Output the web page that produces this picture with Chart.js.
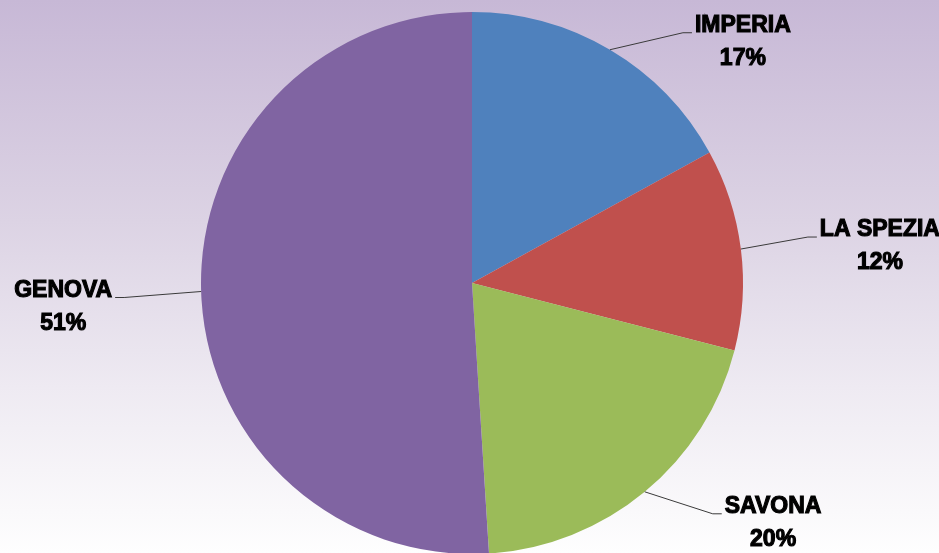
<!DOCTYPE html>
<html>
<head>
<meta charset="utf-8">
<script src="https://cdn.jsdelivr.net/npm/chart.js"></script>
<style>
  html, body { margin: 0; padding: 0; }
  #wrap {
    width: 939px; height: 553px; position: relative;
    background: linear-gradient(to bottom, #c7b8d6 0%, #dcd3e4 40%, #eeeaf2 70%, #fefefe 100%);
  }
</style>
</head>
<body>
<div id="wrap"><canvas id="myChart"></canvas></div>
<script>
const provinces = ["IMPERIA", "LA SPEZIA", "SAVONA", "GENOVA"];
const shares = [17, 12, 20, 51];
const sliceColors = ["#4f81bd", "#c0504d", "#9bbb59", "#8064a2"];

// where each leader line ends, relative to the point on the slice edge
const leaderEnds = [[82, -17], [76, -12], [77, 22], [-86, 6]];

const total = shares.reduce((a, b) => a + b, 0);

const calloutPlugin = {
  id: 'callouts',
  afterDatasetsDraw(chart) {
    const ctx = chart.ctx;
    const meta = chart.getDatasetMeta(0);
    ctx.save();
    ctx.font = 'bold 23px "Liberation Sans", Arial, sans-serif';
    ctx.textAlign = 'center';
    ctx.textBaseline = 'middle';
    meta.data.forEach((arc, i) => {
      const p = arc.getProps(['x', 'y', 'startAngle', 'endAngle', 'outerRadius'], true);
      const mid = (p.startAngle + p.endAngle) / 2;
      const ex = p.x + Math.cos(mid) * p.outerRadius;
      const ey = p.y + Math.sin(mid) * p.outerRadius;
      const side = leaderEnds[i][0] > 0 ? 1 : -1;
      const lx = ex + leaderEnds[i][0];
      const ly = ey + leaderEnds[i][1];

      ctx.strokeStyle = '#3a3a3a';
      ctx.lineWidth = 1;
      ctx.beginPath();
      ctx.moveTo(ex, ey);
      ctx.lineTo(lx - side * 9, ly);
      ctx.lineTo(lx, ly);
      ctx.stroke();

      const name = provinces[i];
      const pct = Math.round(shares[i] / total * 100) + '%';
      const w = ctx.measureText(name).width;
      const tx = lx + side * (w / 2 + 3);
      ctx.fillStyle = '#000';
      ctx.strokeStyle = '#000';
      ctx.lineWidth = 1.1;
      ctx.fillText(name, tx, ly - 7);
      ctx.strokeText(name, tx, ly - 7);
      ctx.fillText(pct, tx, ly + 26);
      ctx.strokeText(pct, tx, ly + 26);
    });
    ctx.restore();
  }
};

new Chart(document.getElementById('myChart'), {
  type: 'pie',
  data: {
    labels: provinces,
    datasets: [{
      data: shares,
      backgroundColor: sliceColors,
      borderWidth: 0,
      radius: 271
    }]
  },
  options: {
    responsive: true,
    maintainAspectRatio: false,
    animation: false,
    layout: { padding: { left: 5, right: 0, top: 13, bottom: 0 } },
    plugins: {
      legend: { display: false },
      tooltip: { enabled: false }
    }
  },
  plugins: [calloutPlugin]
});
</script>
</body>
</html>
